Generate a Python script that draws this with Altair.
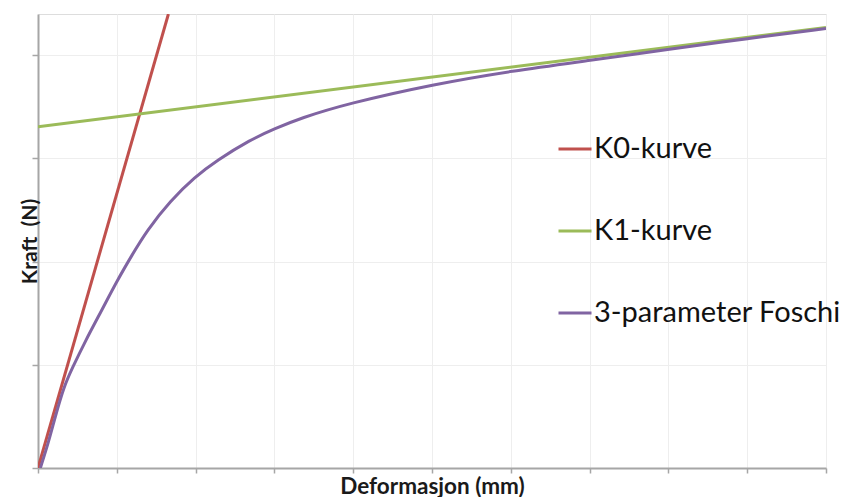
import altair as alt
import pandas as pd

# ---- data ----
k0_x = [0.0, 1.655]
k0_y = [0.0, 4.40]

k1_x = [0.0, 10.0]
k1_y = [3.308, 4.269]

foschi_x = [0.03, 0.13, 0.22, 0.33, 0.43, 0.60, 0.81, 1.00, 1.19, 1.38, 1.68,
            1.99, 2.27, 2.69, 3.01, 3.33, 3.92, 5.02, 6.03, 7.00, 8.02, 9.00, 10.0]
foschi_y = [0.0, 0.24, 0.50, 0.79, 0.96, 1.23, 1.53, 1.81, 2.06, 2.30, 2.59,
            2.82, 2.98, 3.18, 3.29, 3.39, 3.53, 3.72, 3.85, 3.95, 4.06, 4.16, 4.26]

series_names = ["K0-kurve", "K1-kurve", "3-parameter Foschi"]
series_colors = ["#C0504D", "#9BBB59", "#8064A2"]

x_ticks = list(range(0, 11))
y_ticks = [0, 1, 2, 3, 4]

rows = []
for i, (x, y) in enumerate(zip(k0_x, k0_y)):
    rows.append({"x": x, "y": y, "serie": series_names[0], "ord": i})
for i, (x, y) in enumerate(zip(k1_x, k1_y)):
    rows.append({"x": x, "y": y, "serie": series_names[1], "ord": i})
for i, (x, y) in enumerate(zip(foschi_x, foschi_y)):
    rows.append({"x": x, "y": y, "serie": series_names[2], "ord": i})
df = pd.DataFrame(rows)

FONT = "Lato"

chart = alt.Chart(df).mark_line(strokeWidth=3, clip=True, interpolate="basis").encode(
    x=alt.X("x:Q", scale=alt.Scale(domain=[0, 10], nice=False, zero=False),
            axis=alt.Axis(values=x_ticks, labels=False, ticks=True, tickSize=5,
                          tickColor="#A6A6A6", tickWidth=1.5,
                          domainColor="#A6A6A6", domainWidth=2,
                          gridColor="#EEEEEE", gridWidth=1,
                          title="Deformasjon (mm)", titleFont=FONT, titleFontSize=22.5,
                          titleFontWeight="bold", titleColor="#1A1A1A",
                          titleX=394, titleY=25, titleBaseline="alphabetic",
                          titleAlign="center")),
    y=alt.Y("y:Q", scale=alt.Scale(domain=[0, 4.4], nice=False, zero=False),
            axis=alt.Axis(values=y_ticks, labels=False, ticks=True, tickSize=6,
                          tickColor="#A6A6A6", tickWidth=1.5,
                          domainColor="#A6A6A6", domainWidth=2,
                          gridColor="#EEEEEE", gridWidth=1,
                          title="Kraft\u00a0 (N)", titleFont=FONT, titleFontSize=21,
                          titleFontWeight="bold", titleColor="#1A1A1A",
                          titleAngle=-90, titleX=-2, titleY=227,
                          titleBaseline="alphabetic", titleAlign="center")),
    color=alt.Color("serie:N",
                    scale=alt.Scale(domain=series_names, range=series_colors),
                    legend=alt.Legend(title=None, orient="none", legendX=519, legendY=117,
                                      symbolType="stroke", symbolSize=1089,
                                      symbolStrokeWidth=3, labelFont=FONT,
                                      labelFontSize=29, labelColor="#111111",
                                      labelOffset=1, rowPadding=49, padding=0,
                                      labelLimit=400)),
    order=alt.Order("ord:Q"),
).properties(
    width=788, height=454,
    autosize=alt.AutoSizeParams(type="none"),
    padding={"left": 38, "top": 14, "right": 23, "bottom": 29},
).configure_view(stroke=None).configure(background="white")

chart.save("out.html", embed_options={"renderer": "svg", "actions": False})
